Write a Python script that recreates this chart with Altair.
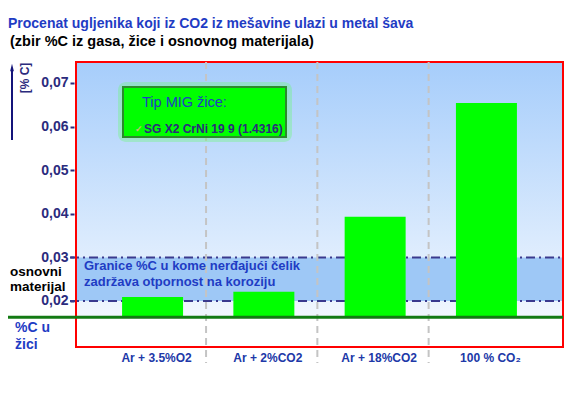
import altair as alt
import pandas as pd

# ---------------- data ----------------
CATEGORIES = ["Ar + 3.5%O2", "Ar + 2%CO2", "Ar + 18%CO2", "100 % CO₂"]
CARBON = [0.0209, 0.0221, 0.0393, 0.0654]      # %C in weld metal
WIRE_C = 0.0163                                 # %C in wire (green line)
BAND_LOW, BAND_HIGH = 0.02, 0.03                # base-material band
Y_TICKS = [0.02, 0.03, 0.04, 0.05, 0.06, 0.07]
Y_DOMAIN = [0.00945, 0.0748]

TITLE = "Procenat ugljenika koji iz CO2 iz mešavine ulazi u metal šava"
SUBTITLE = "(zbir %C iz gasa, žice i osnovnog materijala)"
UNIT = "[% C]"
LEGEND_TITLE = "Tip MIG žice:"
LEGEND_ITEM = "SG X2 CrNi 19 9 (1.4316)"
BAND_TEXT = ["Granice %C u kome nerđajući čelik", "zadržava otpornost na koroziju"]
BASE_TEXT = ["osnovni", "materijal"]
WIRE_TEXT = ["%C u", "žici"]

# ---------------- layout / style ----------------
W, H = 487, 285
FONT = "Liberation Sans"
NAVY = "#2b2b7d"
BLUE = "#1f3cc4"

xs = alt.Scale(domain=CATEGORIES, paddingInner=0.452, paddingOuter=0.414)
ys = alt.Scale(domain=Y_DOMAIN, nice=False, zero=False)

bars_df = pd.DataFrame({"cat": CATEGORIES, "value": CARBON, "base": [WIRE_C] * len(CATEGORIES)})
one = pd.DataFrame({"k": [0]})


def txt(s, x, y, size, color, weight="bold", align="left", angle=0, baseline="middle"):
    kw = dict(font=FONT, fontSize=size, fontWeight=weight, color=color,
              align=align, baseline=baseline)
    if angle:
        kw["angle"] = angle
    return alt.Chart(pd.DataFrame({"t": [s]})).mark_text(**kw).encode(
        x=alt.value(x), y=alt.value(y), text="t:N")


# gradient background above the wire line
bg = alt.Chart(pd.DataFrame({"top": [Y_DOMAIN[1]], "base": [WIRE_C]})).mark_rect(
    color=alt.Gradient(gradient="linear",
                       stops=[alt.GradientStop(offset=0, color="#a6cdfb"),
                              alt.GradientStop(offset=1, color="#f1f7fe")],
                       x1=0, x2=0, y1=0, y2=1)
).encode(x=alt.value(0), x2=alt.value(W),
         y=alt.Y("top:Q", scale=ys, title=None), y2="base:Q")

band = alt.Chart(pd.DataFrame({"hi": [BAND_HIGH], "lo": [BAND_LOW]})).mark_rect(
    color="#9ec8f6").encode(x=alt.value(0), x2=alt.value(W),
                            y=alt.Y("hi:Q", scale=ys, title=None), y2="lo:Q")

dash = alt.Chart(pd.DataFrame({"y": [BAND_LOW, BAND_HIGH]})).mark_rule(
    color="#3a3a8e", strokeWidth=2, strokeDash=[9, 4, 2, 4]).encode(
    x=alt.value(-6), x2=alt.value(W), y=alt.Y("y:Q", scale=ys, title=None))

frame = alt.Chart(one).mark_rect(filled=False, stroke="#ff0000", strokeWidth=2).encode(
    x=alt.value(0), x2=alt.value(W), y=alt.value(0), y2=alt.value(H))

seps = alt.Chart(pd.DataFrame({"cat": CATEGORIES[:3]})).mark_rule(
    color="#c4c4c4", strokeWidth=2, strokeDash=[7, 5], xOffset=23).encode(
    x=alt.X("cat:N", scale=xs, bandPosition=1, title=None),
    y=alt.value(0), y2=alt.value(H + 16))

bars = alt.Chart(bars_df).mark_bar(color="#00ff00").encode(
    x=alt.X("cat:N", scale=xs, sort=None,
            axis=alt.Axis(title=None, ticks=False, domain=False, grid=False,
                          bandPosition=0.5, labelAlign="center",
                          labelAngle=0, labelPadding=10, labelOffset=4,
                          labelFont=FONT, labelFontSize=12, labelFontWeight="bold",
                          labelColor="#2038a8")),
    y=alt.Y("value:Q", scale=ys,
            axis=alt.Axis(title=None, values=Y_TICKS, grid=False, domain=False,
                          labelExpr="replace(format(datum.value, '.2f'), '.', ',')",
                          tickColor=NAVY, tickWidth=2, tickSize=4, offset=2,
                          labelPadding=2, labelFont=FONT, labelFontSize=14,
                          labelFontWeight="bold", labelColor=NAVY)),
    y2="base:Q")

wire = alt.Chart(pd.DataFrame({"y": [WIRE_C]})).mark_rule(
    color="#137a13", strokeWidth=3).encode(
    x=alt.value(-68), x2=alt.value(W), y=alt.Y("y:Q", scale=ys, title=None))

# legend box with glow
glow = alt.Chart(one).mark_rect(color="#5cff5c", opacity=0.3, cornerRadius=8).encode(
    x=alt.value(42), x2=alt.value(216), y=alt.value(20), y2=alt.value(80))
box = alt.Chart(one).mark_rect(color="#00ff00", stroke="#2c8a2c", strokeWidth=2).encode(
    x=alt.value(47), x2=alt.value(210), y=alt.value(25), y2=alt.value(75))

# axis arrow
arrow = alt.Chart(one).mark_rule(color="#14147a", strokeWidth=2).encode(
    x=alt.value(-64), y=alt.value(6), y2=alt.value(78))
head = alt.Chart(one).mark_point(shape="M0,-1L0.45,0.8L-0.45,0.8Z", filled=True,
                                 color="#14147a", size=70, opacity=1).encode(
    x=alt.value(-64), y=alt.value(6))

texts = [
    txt(TITLE, -68, -38, 14, BLUE),
    txt(SUBTITLE, -66, -20, 14.5, "#000000"),
    txt(UNIT, -51, 16, 12, NAVY, angle=270, align="center"),
    txt(BAND_TEXT[0], 8, 204, 13, BLUE),
    txt(BAND_TEXT[1], 8, 220, 13, BLUE),
    txt(BASE_TEXT[0], -66, 210, 13.5, "#000000"),
    txt(BASE_TEXT[1], -66, 225, 13.5, "#000000"),
    txt(WIRE_TEXT[0], -61, 266, 14, BLUE),
    txt(WIRE_TEXT[1], -61, 283, 14, BLUE),
]
legend_txt = [
    txt(LEGEND_TITLE, 66, 41, 14.5, BLUE, weight="normal"),
    txt("✓", 59, 67, 9, "#c8c070"),
    txt(LEGEND_ITEM, 68, 67, 12, NAVY),
]

chart = alt.layer(
    bg, band, dash, frame, seps, bars, wire, glow, box, arrow, head,
    *texts, *legend_txt
).properties(
    width=W, height=H,
    autosize=alt.AutoSizeParams(type="none"),
    padding={"left": 68, "top": 54, "right": 10, "bottom": 30},
).configure_view(stroke=None)

chart.save("out.html", embed_options={"renderer": "svg", "actions": False})
